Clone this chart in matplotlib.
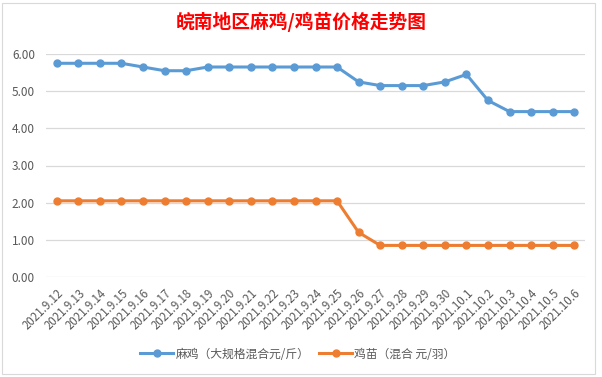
import matplotlib
matplotlib.use("Agg")
import matplotlib.pyplot as plt
from matplotlib.patches import Rectangle

plt.rcParams['font.family'] = ['Noto Sans CJK SC', 'DejaVu Sans']

dates = ["2021.9.12", "2021.9.13", "2021.9.14", "2021.9.15", "2021.9.16", "2021.9.17",
         "2021.9.18", "2021.9.19", "2021.9.20", "2021.9.21", "2021.9.22", "2021.9.23",
         "2021.9.24", "2021.9.25", "2021.9.26", "2021.9.27", "2021.9.28", "2021.9.29",
         "2021.9.30", "2021.10.1", "2021.10.2", "2021.10.3", "2021.10.4", "2021.10.5",
         "2021.10.6"]
majixi = [5.75, 5.75, 5.75, 5.75, 5.65, 5.55, 5.55, 5.65, 5.65, 5.65, 5.65, 5.65,
          5.65, 5.65, 5.25, 5.15, 5.15, 5.15, 5.25, 5.45, 4.75, 4.45, 4.45, 4.45, 4.45]
jimiao = [2.05, 2.05, 2.05, 2.05, 2.05, 2.05, 2.05, 2.05, 2.05, 2.05, 2.05, 2.05,
          2.05, 2.05, 1.20, 0.85, 0.85, 0.85, 0.85, 0.85, 0.85, 0.85, 0.85, 0.85, 0.85]
yticks = [0, 1, 2, 3, 4, 5, 6]
title = "皖南地区麻鸡/鸡苗价格走势图"
label1 = "麻鸡（大规格混合元/斤）"
label2 = "鸡苗（混合 元/羽）"

fig = plt.figure(figsize=(6.02, 3.77), dpi=100)
fig.patches.append(Rectangle((2/602, 3/377), 593/602, 371/377, transform=fig.transFigure,
                             fill=False, edgecolor='#D9D9D9', linewidth=0.8))
ax = fig.add_axes([46/602, 1 - 277/377, (585 - 46)/602, (277 - 54)/377])

x = list(range(len(dates)))
ax.plot(x, majixi, color='#5B9BD5', lw=2.2, marker='o', markersize=5, label=label1)
ax.plot(x, jimiao, color='#ED7D31', lw=2.2, marker='o', markersize=5, label=label2)

ax.set_xlim(-0.5, len(dates) - 0.5)
ax.set_ylim(0, 6)
ax.set_yticks(yticks)
ax.set_yticklabels([f"{v:.2f}" for v in yticks])
ax.set_xticks(x)
ax.set_xticklabels(dates, rotation=45, ha='right', rotation_mode='anchor')
ax.tick_params(axis='x', length=0, labelsize=8.3, colors='#595959', pad=7)
ax.tick_params(axis='y', length=0, labelsize=8.5, colors='#595959', pad=8)
for s in ax.spines.values():
    s.set_visible(False)
ax.grid(axis='y', color='#D9D9D9', linewidth=0.9)
ax.set_axisbelow(True)

fig.text(0.5, 1 - 22/377, title, ha='center', va='center', color='#FF0000',
         fontsize=13.5, fontweight='bold')

leg = fig.legend(loc='center', bbox_to_anchor=(0.495, 1 - 354/377), ncol=2, frameon=False,
                 fontsize=8.5, handlelength=2.8, columnspacing=0.8, handletextpad=0.2)
for t in leg.get_texts():
    t.set_color('#595959')

fig.savefig("out.png", dpi=100)
